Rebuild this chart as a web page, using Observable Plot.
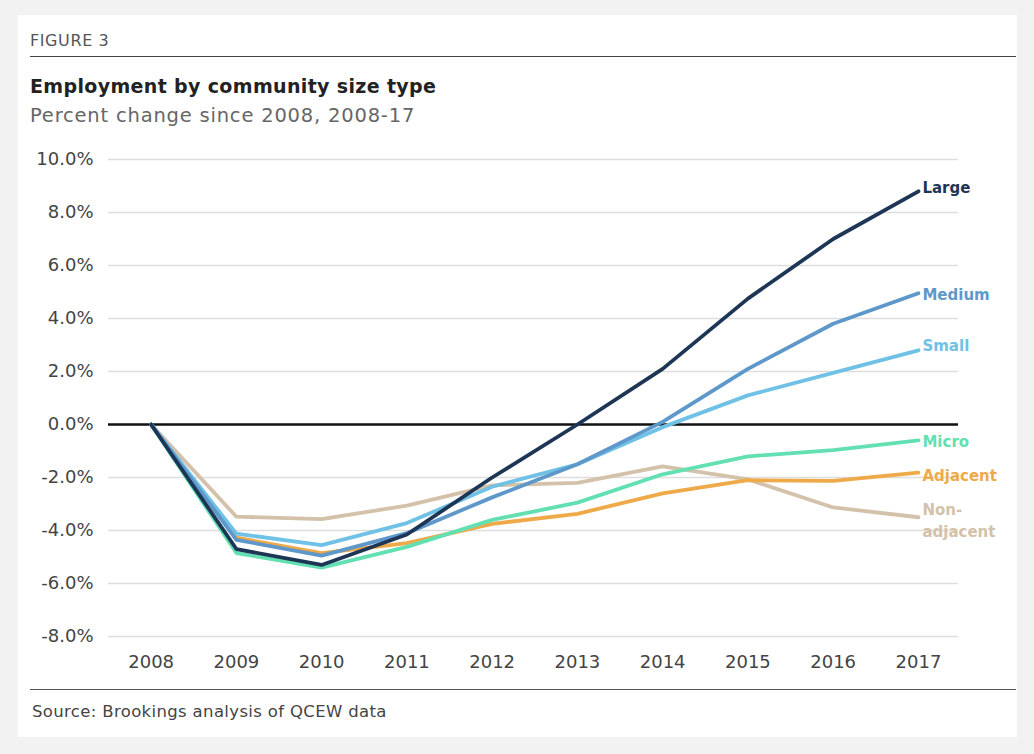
<!DOCTYPE html>
<html>
<head>
<meta charset="utf-8">
<script src="https://cdn.jsdelivr.net/npm/d3@7"></script>
<script src="https://cdn.jsdelivr.net/npm/@observablehq/plot@0.6"></script>
<style>
  html, body { margin: 0; padding: 0; }
  body { width: 1034px; height: 754px; background: #f2f2f2; position: relative; overflow: hidden; font-family: "DejaVu Sans", sans-serif; }
  #card { position: absolute; left: 18px; top: 15px; width: 999px; height: 722px; background: #fff; }
  .t { position: absolute; white-space: nowrap; }
  #fig { left: 30px; top: 31px; font-size: 16px; color: #555; letter-spacing: 0.6px; }
  #rule1 { position: absolute; left: 30px; top: 56px; width: 986px; height: 0; border-top: 1.6px solid #444; }
  #title { left: 30px; top: 75px; font-size: 19px; font-weight: 700; color: #222; letter-spacing: 0.35px; }
  #sub { left: 30px; top: 104px; font-size: 19.5px; color: #666; font-weight: 400; letter-spacing: 0.8px; }
  #chart { position: absolute; left: 0; top: 140px; }
  #rule2 { position: absolute; left: 30px; top: 689px; width: 986px; height: 0; border-top: 1.6px solid #555; }
  #src { left: 32px; top: 702px; font-size: 16.5px; color: #444; letter-spacing: 0.35px; }
</style>
</head>
<body>
<div id="card"></div>
<div class="t" id="fig">FIGURE 3</div>
<div id="rule1"></div>
<div class="t" id="title">Employment by community size type</div>
<div class="t" id="sub">Percent change since 2008, 2008-17</div>
<div id="chart"></div>
<div id="rule2"></div>
<div class="t" id="src">Source: Brookings analysis of QCEW data</div>
<script>
const years = [2008, 2009, 2010, 2011, 2012, 2013, 2014, 2015, 2016, 2017];
const seriesNames = ["Non-adjacent", "Adjacent", "Micro", "Small", "Medium", "Large"];
const seriesColors = ["#d4c1aa", "#eeaa48", "#62e0b2", "#6fc1e6", "#5e98cb", "#1e3656"];
const large       = [0, -4.7, -5.3, -4.15, -2.0, 0.0, 2.1, 4.75, 7.0, 8.8];
const medium      = [0, -4.35, -4.95, -4.1, -2.75, -1.5, 0.1, 2.1, 3.8, 4.95];
const small       = [0, -4.12, -4.55, -3.72, -2.35, -1.5, -0.1, 1.1, 1.95, 2.8];
const micro       = [0, -4.85, -5.4, -4.62, -3.6, -2.95, -1.88, -1.2, -0.97, -0.6];
const adjacent    = [0, -4.27, -4.85, -4.48, -3.75, -3.37, -2.6, -2.1, -2.13, -1.82];
const nonadjacent = [0, -3.48, -3.57, -3.06, -2.3, -2.2, -1.58, -2.07, -3.13, -3.5];
const yTicks = [-8, -6, -4, -2, 0, 2, 4, 6, 8, 10];
const labelText = ["Non-\nadjacent", "Adjacent", "Micro", "Small", "Medium", "Large"];
const labelDy = [2, 1, 0, -6, 0, -5];

const valuesBySeries = {"Non-adjacent": nonadjacent, "Adjacent": adjacent, "Micro": micro, "Small": small, "Medium": medium, "Large": large};
const rows = [];
for (const s of seriesNames) years.forEach((y, i) => rows.push({series: s, year: y, value: valuesBySeries[s][i]}));
const labels = seriesNames.map((s, i) => ({series: s, year: years[years.length - 1], value: valuesBySeries[s][years.length - 1], text: labelText[i], dy: labelDy[i]}));

const plot = Plot.plot({
  width: 1034,
  height: 545,
  marginLeft: 108,
  marginRight: 76,
  marginTop: 19,
  marginBottom: 49,
  style: {fontFamily: "'DejaVu Sans', sans-serif", fontSize: "18px", color: "#444", background: "transparent", overflow: "visible"},
  x: {domain: [2007.5, 2017.47], label: null},
  y: {domain: [-8, 10], label: null},
  color: {domain: seriesNames, range: seriesColors},
  marks: [
    Plot.ruleY(yTicks.filter(d => d !== 0), {x1: 2007.5, x2: 2017.47, stroke: "#dddddd", strokeWidth: 1.5}),
    Plot.ruleY([0], {x1: 2007.5, x2: 2017.47, stroke: "#111", strokeWidth: 2.5}),
    Plot.axisY({ticks: yTicks, tickFormat: d => d.toFixed(1) + "%", tickSize: 0, tickPadding: 15, fontSize: 18, letterSpacing: 1.2}),
    Plot.axisX({ticks: years, tickFormat: d => String(d), tickSize: 0, tickPadding: 19, fontSize: 18, letterSpacing: 0.3}),
    Plot.line(rows, {x: "year", y: "value", z: "series", stroke: "series", strokeWidth: 3.8, strokeLinejoin: "round", strokeLinecap: "round"}),
    ...labels.map(l => Plot.text([l], {x: "year", y: "value", text: "text", fill: "series", dx: 4, dy: l.dy, textAnchor: "start", fontWeight: "bold", fontSize: 15, fontFamily: "'DejaVu Sans', sans-serif", lineHeight: 1.45, letterSpacing: 1.5}))
  ]
});
document.getElementById("chart").appendChild(plot);
</script>
</body>
</html>
